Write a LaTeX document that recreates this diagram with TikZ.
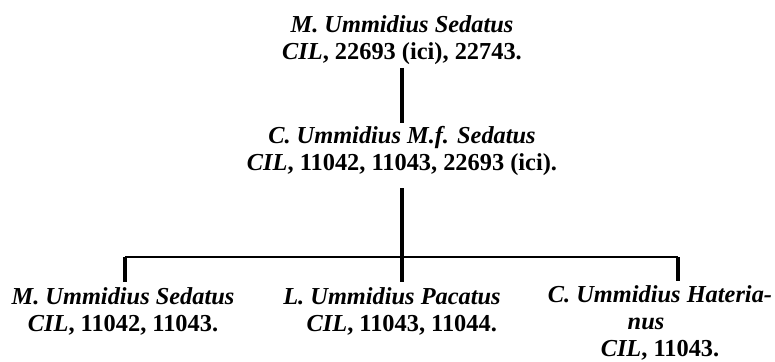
\documentclass[tikz,border=0pt]{standalone}
\usepackage{fontspec}
\setmainfont{Liberation Serif}
\begin{document}
\begin{tikzpicture}
        [x=0.03cm, y=-0.03cm,
        person/.style={align=center, inner sep=0pt, anchor=north, font=\fontsize{20.8}{23.4}\selectfont\bfseries},
        stem/.style={line width=3.2pt, black},
        bar/.style={line width=2.2pt, black}]

        \useasboundingbox (0,0) rectangle (775,362);

        \node[person] (top) at (402,15) {\textit{M. Ummidius Sedatus}\\\textit{CIL}, 22693 (ici), 22743.};
        \node[person] (mid) at (402,126) {\textit{C. Ummidius M.f. Sedatus}\\\textit{CIL}, 11042, 11043, 22693 (ici).};
        \node[person] (left) at (123,287) {\textit{M. Ummidius Sedatus}\\\textit{CIL}, 11042, 11043.};
        \node[person] (centre) at (392,287) {\textit{L. Ummidius Pacatus}\\\hspace{0.8em}\textit{CIL}, 11043, 11044.};
        \node[person] (right) at (660,285) {\textit{C. Ummidius Hateria-}\\\textit{nus}\rule{0.84cm}{0pt}\\\textit{CIL}, 11043.};

        % junctions on the bar
        \coordinate (jl) at (125,257);
        \coordinate (jc) at (402,257);
        \coordinate (jr) at (678,257);

        % descent lines
        \draw[stem, shorten <=0.09cm, shorten >=0.09cm] (top.south) -- (mid.north);
        \draw[stem, shorten <=0.36cm] (mid.south) -- (jc);
        \draw[bar] (jl) -- (jr);
        \draw[stem, shorten >=0.15cm] (jl) -- (jl |- left.north);
        \draw[stem, shorten >=0.15cm] (jc) -- (jc |- centre.north);
        \draw[stem, shorten >=0.12cm] (jr) -- (jr |- right.north);

    \end{tikzpicture}
\end{document}
